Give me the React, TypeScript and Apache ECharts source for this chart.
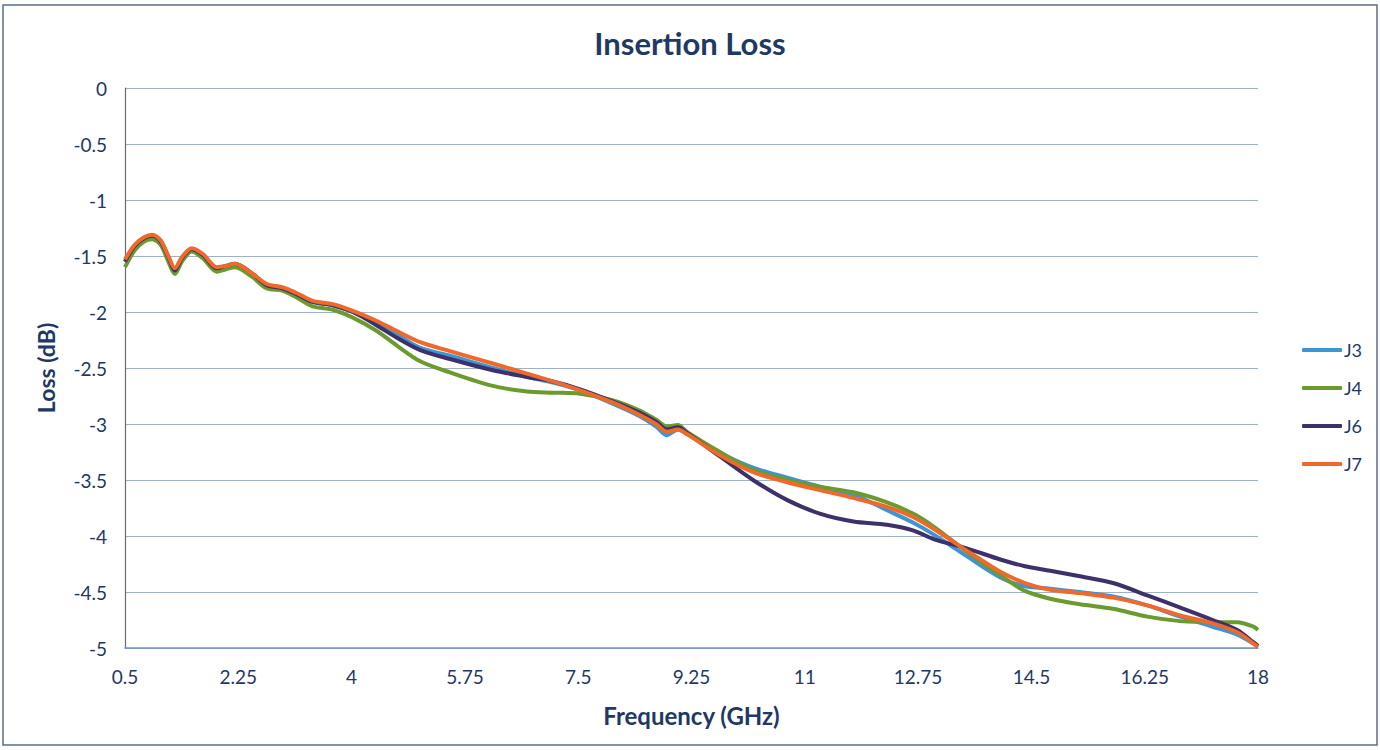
import React, { useEffect, useRef } from "react";
import * as echarts from "echarts";

const freqGHz = [0.5, 0.65, 0.8, 0.92, 1.05, 1.17, 1.27, 1.38, 1.53, 1.7, 1.92, 2.05, 2.2, 2.45, 2.69, 2.94, 3.15, 3.4, 3.71, 4.02, 4.39, 4.7, 5.06, 5.52, 6.18, 6.71, 7.11, 7.53, 8.04, 8.45, 8.7, 8.87, 9.04, 9.18, 9.69, 10.2, 10.73, 11.23, 11.75, 12.27, 12.67, 13.0, 13.5, 14.02, 14.4, 14.79, 15.25, 15.76, 16.29, 16.8, 17.3, 17.68, 17.93, 18];

const j3 = [-1.55, -1.41, -1.34, -1.32, -1.37, -1.51, -1.62, -1.52, -1.44, -1.49, -1.61, -1.6, -1.58, -1.66, -1.76, -1.79, -1.84, -1.91, -1.94, -2.0, -2.1, -2.2, -2.32, -2.39, -2.5, -2.58, -2.63, -2.7, -2.82, -2.93, -3.02, -3.1, -3.05, -3.09, -3.26, -3.39, -3.48, -3.56, -3.63, -3.77, -3.88, -3.99, -4.18, -4.37, -4.45, -4.47, -4.5, -4.54, -4.62, -4.72, -4.81, -4.88, -4.96, -4.99];

const j4 = [-1.6, -1.45, -1.37, -1.35, -1.4, -1.55, -1.66, -1.55, -1.46, -1.52, -1.64, -1.62, -1.6, -1.68, -1.79, -1.81, -1.87, -1.95, -1.98, -2.05, -2.17, -2.3, -2.44, -2.54, -2.66, -2.71, -2.72, -2.73, -2.79, -2.88, -2.96, -3.02, -3.01, -3.07, -3.25, -3.41, -3.5, -3.56, -3.61, -3.7, -3.8, -3.92, -4.14, -4.35, -4.49, -4.56, -4.61, -4.65, -4.72, -4.76, -4.77, -4.77, -4.81, -4.84];

const j6 = [-1.55, -1.41, -1.34, -1.32, -1.37, -1.51, -1.63, -1.52, -1.44, -1.49, -1.61, -1.59, -1.57, -1.65, -1.76, -1.79, -1.84, -1.91, -1.94, -2.0, -2.12, -2.23, -2.34, -2.42, -2.52, -2.58, -2.62, -2.69, -2.8, -2.9, -2.98, -3.05, -3.03, -3.08, -3.29, -3.5, -3.68, -3.8, -3.87, -3.9, -3.95, -4.03, -4.11, -4.21, -4.27, -4.31, -4.36, -4.42, -4.53, -4.64, -4.75, -4.84, -4.95, -4.98];

const j7 = [-1.53, -1.4, -1.33, -1.31, -1.36, -1.5, -1.61, -1.51, -1.43, -1.48, -1.6, -1.59, -1.57, -1.65, -1.75, -1.78, -1.83, -1.9, -1.93, -1.99, -2.08, -2.17, -2.27, -2.35, -2.46, -2.55, -2.62, -2.7, -2.81, -2.92, -3.0, -3.07, -3.05, -3.09, -3.28, -3.43, -3.52, -3.59, -3.66, -3.74, -3.83, -3.94, -4.13, -4.32, -4.42, -4.48, -4.51, -4.55, -4.62, -4.71, -4.78, -4.86, -4.96, -4.99];

const seriesNames = ["J3", "J4", "J6", "J7"];
const seriesValues = [j3, j4, j6, j7];
const seriesColors = ["#3d95d3", "#6b9a2f", "#3e3068", "#f0692b"];

const textColor = "#1f3864";
const fontFamily = "Lato, 'Open Sans', sans-serif";

export default function App() {
  const ref = useRef<HTMLDivElement>(null);
  useEffect(() => {
    document.body.style.margin = "0";
    if (!ref.current) return;
    const chart = echarts.init(ref.current, null, { renderer: "svg" });
    chart.setOption({
      animation: false,
      backgroundColor: "#ffffff",
      textStyle: { fontFamily },
      title: {
        text: "Insertion Loss",
        left: "center",
        top: 22,
        textStyle: { color: textColor, fontSize: 31, fontWeight: "bold", fontFamily },
      },
      graphic: [
        {
          type: "rect",
          shape: { x: 3, y: 5, width: 1374, height: 740 },
          style: { fill: "none", stroke: "#5b6e8c", lineWidth: 1.5 },
          silent: true,
        },
      ],
      legend: {
        orient: "vertical",
        left: 1297,
        top: 336,
        itemWidth: 40,
        itemHeight: 4,
        itemGap: 20,
        icon: "roundRect",
        data: seriesNames,
        textStyle: { color: textColor, fontSize: 18, fontFamily, padding: [0, 0, 0, -3] },
      },
      grid: { left: 125, right: 122, top: 88, bottom: 102 },
      xAxis: {
        type: "value",
        min: 0.5,
        max: 18,
        interval: 1.75,
        name: "Frequency (GHz)",
        nameLocation: "middle",
        nameGap: 55,
        nameTextStyle: { color: textColor, fontSize: 24, fontWeight: "bold", fontFamily },
        axisLine: { show: true, onZero: false, lineStyle: { color: "#6f95c0", width: 1.5 } },
        axisTick: { show: false },
        splitLine: { show: false },
        axisLabel: { color: textColor, fontSize: 19, margin: 19, fontFamily },
      },
      yAxis: {
        type: "value",
        min: -5,
        max: 0,
        interval: 0.5,
        name: "Loss (dB)",
        nameLocation: "middle",
        nameGap: 68,
        nameTextStyle: { color: textColor, fontSize: 23, fontWeight: "bold", fontFamily },
        axisLine: { show: true, onZero: false, lineStyle: { color: "#6a6a6a", width: 1.2 } },
        axisTick: { show: false },
        splitLine: { show: true, lineStyle: { color: "#9fb2c8", width: 1.2 } },
        axisLabel: { color: textColor, fontSize: 19, margin: 18, fontFamily },
      },
      series: seriesNames.map((name, i) => ({
        name,
        type: "line",
        data: freqGHz.map((f, k) => [f, seriesValues[i][k]]),
        smooth: 0.3,
        symbol: "none",
        color: seriesColors[i],
        lineStyle: { color: seriesColors[i], width: 4 },
        itemStyle: { color: seriesColors[i] },
      })),
    });
    return () => chart.dispose();
  }, []);
  return <div ref={ref} style={{ width: 1380, height: 750 }} />;
}
